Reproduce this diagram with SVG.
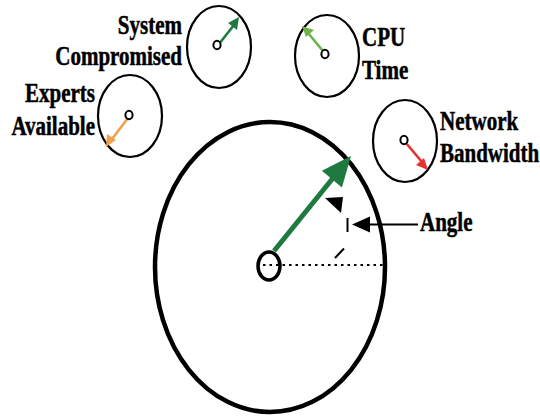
<svg xmlns="http://www.w3.org/2000/svg" width="540" height="417" viewBox="0 0 540 417">
  <style>
    .dial { fill: none; stroke: #000; stroke-width: 2.2; }
    .hub { fill: #fff; stroke: #000; stroke-width: 2; }
    .lbl { font-family: "Liberation Serif", "Times New Roman", serif; font-weight: bold; font-size: 21px; fill: #000; stroke: #000; stroke-width: 0.4; }
    .needle { stroke-width: 2.6; fill: none; }
  </style>
  <rect width="540" height="417" fill="#fff"/>

  <!-- main gauge -->
  <g id="main-gauge">
    <ellipse cx="270" cy="267" rx="115" ry="145" fill="none" stroke="#000" stroke-width="4.5"/>
    <ellipse cx="269" cy="266" rx="11" ry="14" fill="#fff" stroke="#000" stroke-width="3.5"/>
  </g>

  <g id="connectors">
    <!-- reference line -->
    <line x1="263" y1="265" x2="384" y2="265" stroke="#000" stroke-width="2.2" stroke-dasharray="2.5 4"/>
    <!-- main needle -->
    <line x1="274" y1="251" x2="333" y2="178" stroke="#1e7a3e" stroke-width="5"/>
    <polygon points="351,156 341.9,187.4 321.9,170.8" fill="#1e7a3e"/>
    <!-- angle arc pieces -->
    <polygon points="325,198 343,197 341,213" fill="#000"/>
    <line x1="347.5" y1="218" x2="347.5" y2="232" stroke="#000" stroke-width="2"/>
    <line x1="335" y1="258" x2="344" y2="248.5" stroke="#000" stroke-width="2"/>
    <!-- Angle pointer -->
    <line x1="366" y1="224.5" x2="418" y2="224.5" stroke="#000" stroke-width="2"/>
    <polygon points="352,224.5 370,216.5 370,232.5" fill="#000"/>
  </g>

  <g id="angle-label">
    <text class="lbl" transform="translate(420,231) scale(1,1.25)">Angle</text>
  </g>

  <g id="system-compromised">
    <ellipse class="dial" cx="219" cy="47" rx="32" ry="41"/>
    <line class="needle" x1="219" y1="44" x2="234" y2="25" stroke="#1e7a3e"/>
    <polygon points="239,17 237,30 228,23" fill="#1e7a3e"/>
    <ellipse class="hub" cx="217" cy="45" rx="3.6" ry="4.2"/>
    <text class="lbl" text-anchor="end" transform="translate(182,34) scale(1,1.25)">System</text>
    <text class="lbl" text-anchor="end" transform="translate(182,65) scale(1,1.25)">Compromised</text>
  </g>

  <g id="experts-available">
    <ellipse class="dial" cx="130" cy="116" rx="32" ry="41"/>
    <line class="needle" x1="128" y1="118" x2="112" y2="139" stroke="#f0a04a"/>
    <polygon points="106,147 107,134 116,140" fill="#f0a04a"/>
    <ellipse class="hub" cx="129" cy="115" rx="3.6" ry="4.2"/>
    <text class="lbl" text-anchor="end" transform="translate(95,102) scale(1,1.25)">Experts</text>
    <text class="lbl" text-anchor="end" transform="translate(95,135) scale(1,1.25)">Available</text>
  </g>

  <g id="cpu-time">
    <ellipse class="dial" cx="327" cy="56" rx="32" ry="41"/>
    <line class="needle" x1="323" y1="51" x2="308" y2="33" stroke="#6db24a"/>
    <polygon points="302,26 314,30 306,37" fill="#6db24a"/>
    <ellipse class="hub" cx="325" cy="54" rx="3.6" ry="4.2"/>
    <text class="lbl" transform="translate(362,46) scale(1,1.25)">CPU</text>
    <text class="lbl" transform="translate(362,79) scale(1,1.25)">Time</text>
  </g>

  <g id="network-bandwidth">
    <ellipse class="dial" cx="405" cy="141" rx="32" ry="41"/>
    <line class="needle" x1="406" y1="143" x2="422" y2="162" stroke="#e53030"/>
    <polygon points="428,170 416,165 424,158" fill="#e53030"/>
    <ellipse class="hub" cx="404" cy="140" rx="3.6" ry="4.2"/>
    <text class="lbl" transform="translate(440,130) scale(1,1.25)">Network</text>
    <text class="lbl" transform="translate(440,162) scale(1,1.25)">Bandwidth</text>
  </g>
</svg>
